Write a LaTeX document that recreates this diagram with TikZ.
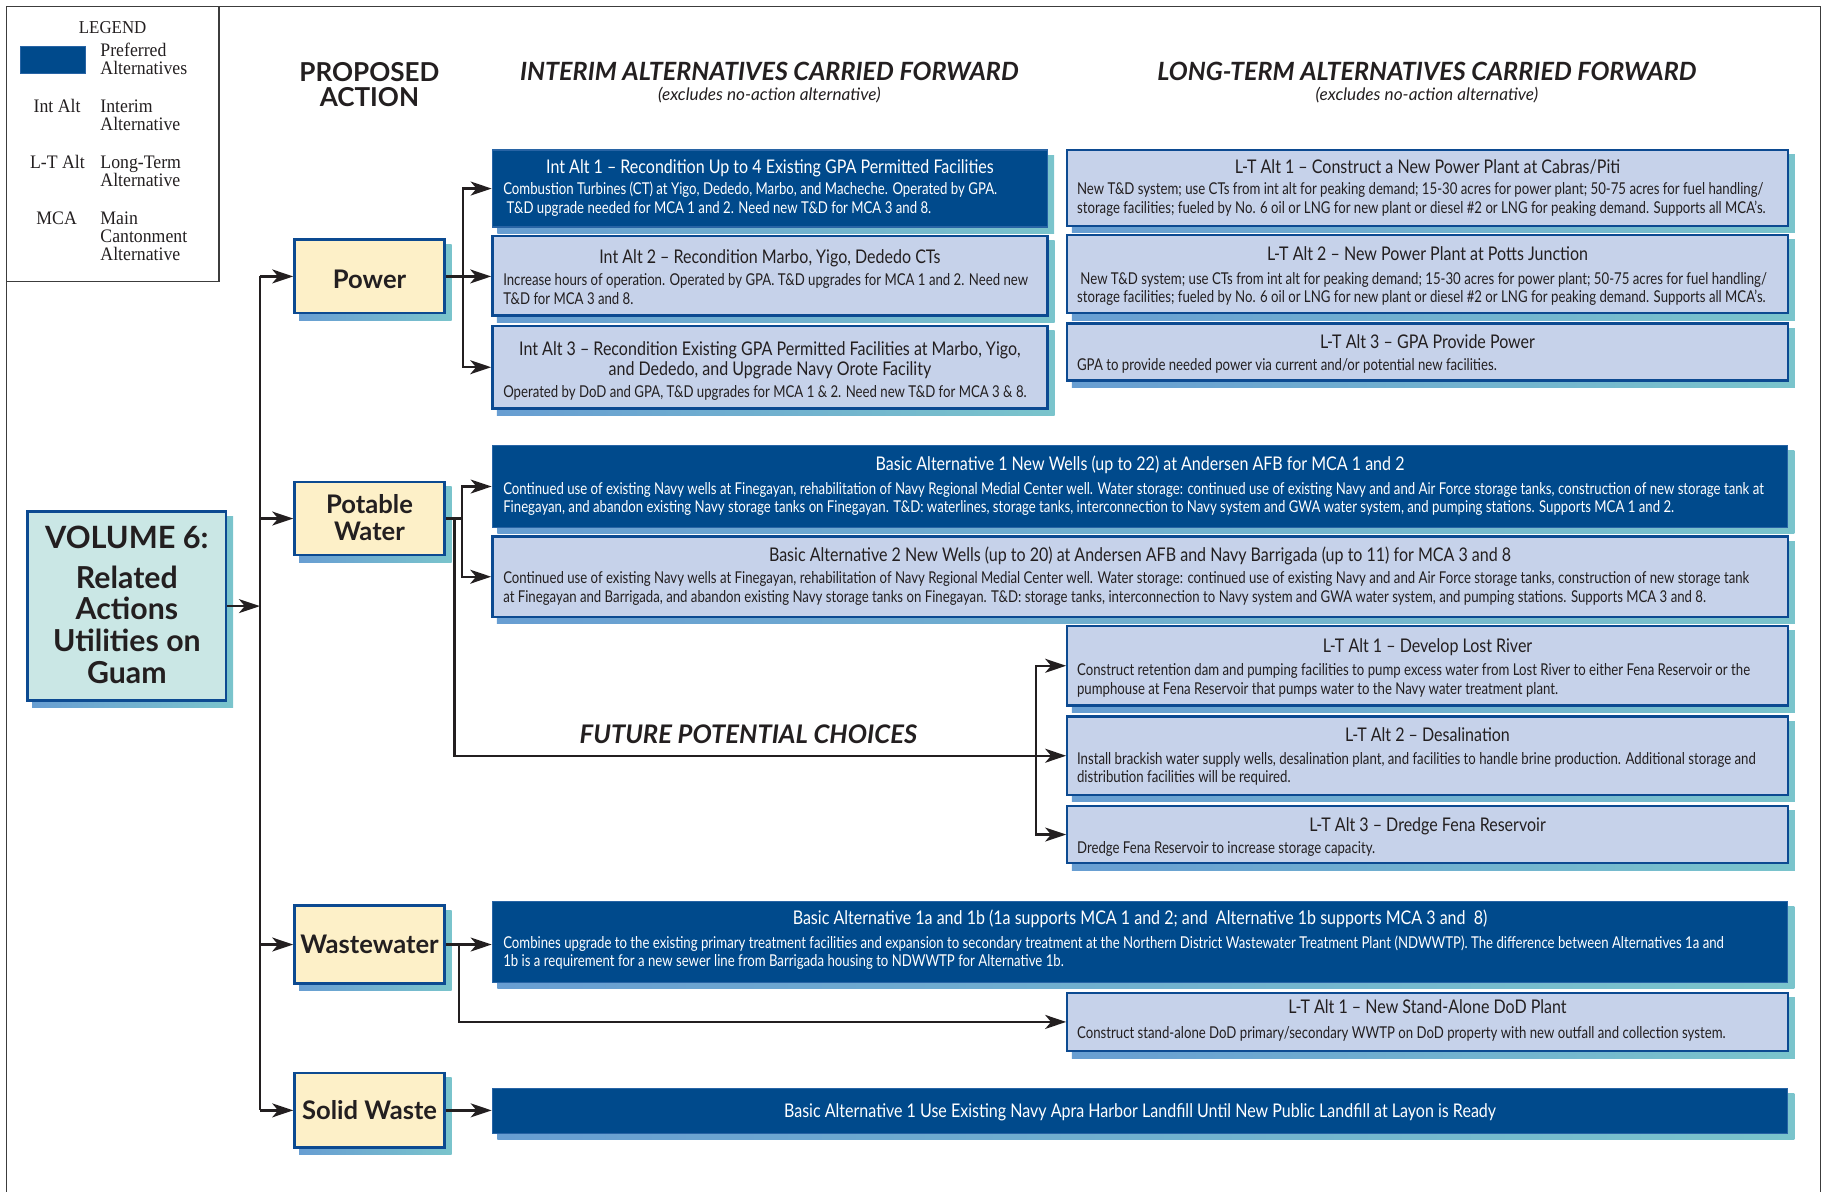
\documentclass[tikz,border=0pt]{standalone}
\usepackage{fontspec}
\setmainfont{Lato}
\newfontfamily\bodyfont[FakeStretch=0.81]{Lato}
\newfontfamily\bodyfontn[FakeStretch=0.81]{Lato}
\newfontfamily\headfont[FakeStretch=0.85]{Lato}
\newfontfamily\legfont[FakeStretch=0.93]{Liberation Serif}
\usetikzlibrary{arrows.meta,fit,calc,backgrounds}
\definecolor{prefC}{RGB}{0,74,140}
\definecolor{prefB}{RGB}{40,100,165}
\definecolor{altC}{RGB}{198,210,234}
\definecolor{bordC}{RGB}{12,74,145}
\definecolor{creamC}{RGB}{253,240,200}
\definecolor{tealC}{RGB}{202,231,229}
\definecolor{shL}{RGB}{104,158,210}
\definecolor{shR}{RGB}{122,196,204}
\definecolor{txtC}{RGB}{35,31,32}
\definecolor{frameC}{RGB}{60,60,60}
\newcommand\LL[1]{\vtop{\halign{##\hfil\cr#1\crcr}}}
\newcommand\CL[1]{\vtop{\halign{\hfil##\hfil\cr#1\crcr}}}
\tikzset{
  prefbox/.style={fill=prefC, draw=prefB, line width=0.6pt, inner sep=0pt},
  altbox/.style={fill=altC, draw=bordC, line width=1pt, inner sep=0pt},
  catbox/.style={fill=creamC, draw=bordC, line width=1.1pt, inner sep=0pt},
  volbox/.style={fill=tealC, draw=bordC, line width=1.1pt, inner sep=0pt},
  headtxt/.style={font=\headfont\fontsize{8.1}{9}\selectfont, text=txtC, inner sep=0pt, anchor=base},
  bodytxt/.style={font=\bodyfont\fontsize{7}{7.85}\selectfont, text=txtC, inner sep=0pt, anchor=base west},
  bodytxtn/.style={font=\bodyfontn\fontsize{7}{7.85}\selectfont, text=txtC, inner sep=0pt, anchor=base west},
  cattxt/.style={font=\bfseries\fontsize{11}{11.7}\selectfont, text=txtC, inner sep=0pt, anchor=base},
  voltxt/.style={font=\bfseries\fontsize{13}{13.6}\selectfont, text=txtC, inner sep=0pt, anchor=base},
  coltitle/.style={font=\bfseries\itshape\fontsize{10.8}{11}\selectfont, text=txtC, inner sep=0pt, anchor=base},
  colsub/.style={font=\itshape\fontsize{7.4}{9}\selectfont, text=txtC, inner sep=0pt, anchor=base},
  legtxt/.style={font=\legfont\fontsize{8.2}{7.75}\selectfont, text=txtC, inner sep=0pt},
  conn/.style={draw=txtC, line width=1pt},
  arr/.style={conn, -{Stealth[length=9pt,width=6pt,inset=2.5pt]}},
  frameline/.style={draw=frameC, line width=0.7pt},
}
\begin{document}
\begin{tikzpicture}[x=0.5pt,y=-0.5pt]
\useasboundingbox (0,0) rectangle (1568,1024);
% frame and legend
\draw[frameline] (5.7,1024) -- (5.7,5.7) -- (1564,5.7) -- (1564,1024);
\draw[frameline] (188.4,5.7) -- (188.4,242) -- (5.7,242);
\node[legtxt, anchor=base, font=\legfont\fontsize{7.8}{8}\selectfont] (legt) at (96.8,28.6) {LEGEND};
\node[prefbox, fit={(17.8,40.1) (73.6,63)}] (legsw) {};
\node[legtxt, anchor=base west] (leg1) at (85.9,48.7) {\LL{Preferred\cr Alternatives}};
\node[legtxt, anchor=base] (leg2a) at (49,96.8) {Int Alt};
\node[legtxt, anchor=base west] (leg2) at (85.9,96.8) {\LL{Interim\cr Alternative}};
\node[legtxt, anchor=base] (leg3a) at (49.4,144.6) {L-T Alt};
\node[legtxt, anchor=base west] (leg3) at (85.9,144.6) {\LL{Long-Term\cr Alternative}};
\node[legtxt, anchor=base] (leg4a) at (48.7,192.7) {MCA};
\node[legtxt, anchor=base west] (leg4) at (85.9,192.7) {\LL{Main\cr Cantonment\cr Alternative}};
% column titles
\node[cattxt, font=\bfseries\fontsize{11.2}{11}\selectfont] (pa) at (317.4,69.6) {\CL{PROPOSED\cr ACTION}};
\node[coltitle] (iat) at (661,69) {INTERIM ALTERNATIVES CARRIED FORWARD};
\node[colsub] (ias) at (661,86.5) {(excludes no-action alternative)};
\node[coltitle] (ltt) at (1226,69) {LONG-TERM ALTERNATIVES CARRIED FORWARD};
\node[colsub] (lts) at (1226,86.5) {(excludes no-action alternative)};
% volume box
\node[volbox, fit={(23.8,439.5) (194.1,602)}] (vol) {};
\node[voltxt, font=\bfseries\fontsize{13.2}{14}\selectfont] (volt1) at (109,471) {VOLUME 6:};
\node[voltxt] (volt2) at (109,505.4) {\CL{Related\cr Actions\cr Utilities on\cr Guam}};
% category boxes
\node[catbox, fit={(253,206) (382,269)}] (power) {};
\node[cattxt] (powert) at (317.5,247.7) {Power};
\node[catbox, fit={(253,414) (382,477)}] (water) {};
\node[cattxt] (watert) at (317.5,441) {\CL{Potable\cr Water}};
\node[catbox, fit={(253,778) (382,845)}] (ww) {};
\node[cattxt] (wwt) at (317.5,819) {Wastewater};
\node[catbox, fit={(253,922) (382,986)}] (sw) {};
\node[cattxt] (swt) at (317.5,962) {Solid Waste};
% power alternatives
\node[prefbox, fit={(423,129) (900,195)}] (ia1) {};
\node[headtxt, text=white] (ia1h) at (661.5,149) {Int Alt 1 – Recondition Up to 4 Existing GPA Permitted Facilities};
\node[bodytxt, text=white] (ia1b) at (432,167.5) {\LL{Combustion Turbines (CT) at Yigo, Dededo, Marbo, and Macheche. Operated by GPA.\cr \ T\&D upgrade needed for MCA 1 and 2. Need new T\&D for MCA 3 and 8.}};
\node[altbox, fit={(423,203) (900,271)}] (ia2) {};
\node[headtxt] (ia2h) at (661.5,226) {Int Alt 2 – Recondition Marbo, Yigo, Dededo CTs};
\node[bodytxt] (ia2b) at (432,245.5) {\LL{Increase hours of operation. Operated by GPA. T\&D upgrades for MCA 1 and 2. Need new\cr T\&D for MCA 3 and 8.}};
\node[altbox, fit={(423,280) (900,351)}] (ia3) {};
\node[headtxt] (ia3h) at (661.5,305) {\CL{Int Alt 3 – Recondition Existing GPA Permitted Facilities at Marbo, Yigo,\cr and Dededo, and Upgrade Navy Orote Facility}};
\node[bodytxt] (ia3b) at (432,341.5) {Operated by DoD and GPA, T\&D upgrades for MCA 1 \& 2. Need new T\&D for MCA 3 \& 8.};
\node[altbox, fit={(917,129) (1536,194)}] (lt1) {};
\node[headtxt] (lt1h) at (1226.5,149) {L-T Alt 1 – Construct a New Power Plant at Cabras/Piti};
\node[bodytxt] (lt1b) at (925,167.5) {\LL{New T\&D system; use CTs from int alt for peaking demand; 15-30 acres for power plant; 50-75 acres for fuel handling/\cr storage facilities; fueled by No. 6 oil or LNG for new plant or diesel \#2 or LNG for peaking demand. Supports all MCA’s.}};
\node[altbox, fit={(917,202) (1536,269)}] (lt2) {};
\node[headtxt] (lt2h) at (1226.5,224) {L-T Alt 2 – New Power Plant at Potts Junction};
\node[bodytxt] (lt2b) at (925,244) {\LL{\ New T\&D system; use CTs from int alt for peaking demand; 15-30 acres for power plant; 50-75 acres for fuel handling/\cr storage facilities; fueled by No. 6 oil or LNG for new plant or diesel \#2 or LNG for peaking demand. Supports all MCA’s.}};
\node[altbox, fit={(917,278) (1536,327)}] (lt3) {};
\node[headtxt] (lt3h) at (1226.5,299) {L-T Alt 3 – GPA Provide Power};
\node[bodytxt] (lt3b) at (925,318) {GPA to provide needed power via current and/or potential new facilities.};
% water alternatives
\node[prefbox, fit={(423,383) (1536,453)}] (ba1) {};
\node[headtxt, text=white] (ba1h) at (979.5,404) {Basic Alternative 1 New Wells (up to 22) at Andersen AFB for MCA 1 and 2};
\node[bodytxtn, text=white] (ba1b) at (432,425) {\LL{Continued use of existing Navy wells at Finegayan, rehabilitation of Navy Regional Medial Center well. Water storage: continued use of existing Navy and and Air Force storage tanks, construction of new storage tank at\cr Finegayan, and abandon existing Navy storage tanks on Finegayan. T\&D: waterlines, storage tanks, interconnection to Navy system and GWA water system, and pumping stations. Supports MCA 1 and 2.}};
\node[altbox, fit={(423,461) (1536,530)}] (ba2) {};
\node[headtxt] (ba2h) at (979.5,482) {Basic Alternative 2 New Wells (up to 20) at Andersen AFB and Navy Barrigada (up to 11) for MCA 3 and 8};
\node[bodytxtn] (ba2b) at (432,501.7) {\LL{Continued use of existing Navy wells at Finegayan, rehabilitation of Navy Regional Medial Center well. Water storage: continued use of existing Navy and and Air Force storage tanks, construction of new storage tank\cr at Finegayan and Barrigada, and abandon existing Navy storage tanks on Finegayan. T\&D: storage tanks, interconnection to Navy system and GWA water system, and pumping stations. Supports MCA 3 and 8.}};
\node[altbox, fit={(917,538) (1536,606)}] (lw1) {};
\node[headtxt] (lw1h) at (1226.5,560.4) {L-T Alt 1 – Develop Lost River};
\node[bodytxt] (lw1b) at (925,580.7) {\LL{Construct retention dam and pumping facilities to pump excess water from Lost River to either Fena Reservoir or the\cr pumphouse at Fena Reservoir that pumps water to the Navy water treatment plant.}};
\node[altbox, fit={(917,615.6) (1536,683)}] (lw2) {};
\node[headtxt] (lw2h) at (1226.5,637) {L-T Alt 2 – Desalination};
\node[bodytxt] (lw2b) at (925,656.6) {\LL{Install brackish water supply wells, desalination plant, and facilities to handle brine production. Additional storage and\cr distribution facilities will be required.}};
\node[altbox, fit={(917,692.4) (1536,741.6)}] (lw3) {};
\node[headtxt] (lw3h) at (1226.5,714.4) {L-T Alt 3 – Dredge Fena Reservoir};
\node[bodytxt] (lw3b) at (925,733) {Dredge Fena Reservoir to increase storage capacity.};
\node[coltitle, font=\bfseries\itshape\fontsize{11}{11}\selectfont] (fpc) at (643,638.5) {FUTURE POTENTIAL CHOICES};
% wastewater alternatives
\node[prefbox, fit={(423,774.5) (1536,844)}] (wb) {};
\node[headtxt, text=white] (wbh) at (979.5,794.6) {Basic Alternative 1a and 1b (1a supports MCA 1 and 2; and\ \ Alternative 1b supports MCA 3 and\ \ 8)};
\node[bodytxtn, text=white] (wbb) at (432,814.6) {\LL{Combines upgrade to the existing primary treatment facilities and expansion to secondary treatment at the Northern District Wastewater Treatment Plant (NDWWTP). The difference between Alternatives 1a and\cr 1b is a requirement for a new sewer line from Barrigada housing to NDWWTP for Alternative 1b.}};
\node[altbox, fit={(917,853) (1536,903)}] (wl) {};
\node[headtxt] (wlh) at (1226.5,870.5) {L-T Alt 1 – New Stand-Alone DoD Plant};
\node[bodytxt] (wlb) at (925,892) {Construct stand-alone DoD primary/secondary WWTP on DoD property with new outfall and collection system.};
% solid waste
\node[prefbox, fit={(423,935) (1536,973.6)}] (sb) {};
\node[headtxt, text=white] (sbh) at (979.5,960) {Basic Alternative 1 Use Existing Navy Apra Harbor Landfill Until New Public Landfill at Layon is Ready};
% shadows
\begin{scope}[on background layer]
\foreach \n in {vol,power,water,ww,sw,ia1,ia2,ia3,lt1,lt2,lt3,ba1,ba2,lw1,lw2,lw3,wb,wl,sb}
  \shade[left color=shL,right color=shR] ($(\n.south west)+(5,5)$) rectangle ($(\n.north east)+(5,5)$);
\end{scope}
% connectors
\coordinate (tx) at (223.3,0);
\draw[arr] (vol.east) -- (vol.east -| tx);
\draw[conn] (power.west -| tx) -- (sw.west -| tx);
\draw[arr] (power.west -| tx) -- (power.west);
\draw[arr] (water.west -| tx) -- (water.west);
\draw[arr] (ww.west -| tx) -- (ww.west);
\draw[arr] (sw.west -| tx) -- (sw.west);
% power branch
\coordinate (px) at (398,0);
\draw[conn] (power.east) -- (power.east -| px);
\draw[arr] (power.east -| px) |- (ia1.west);
\draw[arr] (power.east -| px) -- (power.east -| ia2.west);
\draw[arr] (power.east -| px) |- (ia3.west);
% water branch
\coordinate (wx) at (397.2,0);
\coordinate (fx) at (390.6,0);
\coordinate (gx) at (890,0);
\draw[conn] (water.east) -- (water.east -| wx);
\draw[arr] (water.east -| wx) |- (ba1.west);
\draw[arr] (water.east -| wx) |- (ba2.west);
\draw[conn] (water.east -| fx) |- (lw2.west -| gx);
\draw[arr] (lw2.west -| gx) -- (lw2.west);
\draw[arr] (lw2.west -| gx) |- (lw1.west);
\draw[arr] (lw2.west -| gx) |- (lw3.west);
% wastewater branch
\coordinate (bx) at (394.6,0);
\draw[arr] (ww.east) -- (ww.east -| wb.west);
\draw[arr] (ww.east -| bx) |- (wl.west);
% solid waste
\draw[arr] (sw.east) -- (sw.east -| sb.west);
\end{tikzpicture}
\end{document}
